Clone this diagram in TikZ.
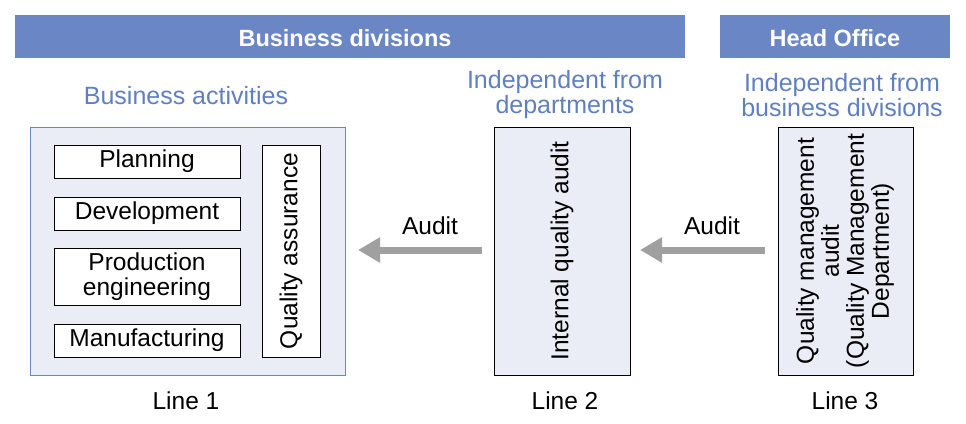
\documentclass[tikz,border=0pt]{standalone}
\usepackage{fontspec}
\setmainfont{Liberation Sans}
\usetikzlibrary{arrows.meta}
\definecolor{band}{HTML}{6A86C4}
\definecolor{lav}{HTML}{EBEDF6}
\definecolor{bluetxt}{HTML}{5F7FC0}
\definecolor{arr}{HTML}{A0A0A0}
\begin{document}
\begin{tikzpicture}[x=1pt,y=-1pt,
  banner/.style={fill=band,draw=none,text=white,font=\fontsize{23.5}{25}\selectfont\bfseries},
  bt/.style={text=bluetxt,font=\fontsize{25}{25}\selectfont,align=center},
  item/.style={draw=black,fill=white,line width=0.8pt},
  lbl/.style={font=\fontsize{24.5}{25}\selectfont,align=center},
  ga/.style={draw=arr,line width=7pt,-{Triangle[length=22pt,width=24pt]}}]
\useasboundingbox (0,0) rectangle (966,423);
\fill[band] (15,15) rectangle (685,58);
\node[banner] (bd) at (345,38) {Business divisions};
\fill[band] (720,15) rectangle (950,58);
\node[banner] (ho) at (835,38) {Head Office};
\node[bt] (ba) at (186,96) {Business activities};
\node[bt] (id) at (565,95) {Independent from\\departments};
\node[bt] (ib) at (842,95) {Independent from\\business divisions};
\draw[draw=band,fill=lav,line width=0.8pt] (30,127) rectangle (345,375);
\draw[item] (54,145) rectangle (240,178); \node[lbl] (p) at (147,161.5) {Planning};
\draw[item] (54,197) rectangle (240,230); \node[lbl] (d) at (147,213.5) {Development};
\draw[item] (54,248) rectangle (240,305); \node[lbl] (pe) at (147,276.5) {Production\\engineering};
\draw[item] (54,324) rectangle (240,357); \node[lbl] (m) at (147,340.5) {Manufacturing};
\draw[item] (262,145) rectangle (320,357); \node[lbl,rotate=90] (qa) at (291,251) {Quality assurance};
\draw[fill=lav,line width=0.8pt] (494,127) rectangle (630,375);
\node[lbl,rotate=90] (iqa) at (562,251) {Internal quality audit};
\draw[fill=lav,line width=0.8pt] (778,127) rectangle (913,375);
\node[lbl,rotate=90] (qma) at (845,251) {Quality management\\audit\\(Quality Management\\Department)};
\coordinate (a1s) at (482,250); \coordinate (a1e) at (358,250);
\coordinate (a2s) at (765,250); \coordinate (a2e) at (640,250);
\draw[ga] (a1s) -- (a1e);
\draw[ga] (a2s) -- (a2e);
\node[lbl] (au1) at (430,226) {Audit};
\node[lbl] (au2) at (712,226) {Audit};
\node[lbl] (l1) at (186,401) {Line 1};
\node[lbl] (l2) at (565,401) {Line 2};
\node[lbl] (l3) at (845,401) {Line 3};
\end{tikzpicture}
\end{document}
